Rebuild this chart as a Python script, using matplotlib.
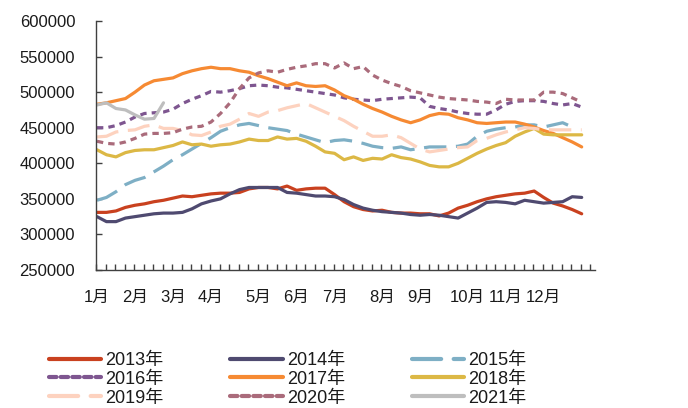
import numpy as np
import matplotlib
matplotlib.use("Agg")
import matplotlib.pyplot as plt
from matplotlib.lines import Line2D

plt.rcParams['font.family'] = ['Liberation Sans', 'Noto Sans CJK SC', 'DejaVu Sans']

weeks = np.arange(52)
month_weeks = [0, 4, 8, 12, 17, 21, 25, 30, 34, 39, 43, 47]
month_labels = ['1月', '2月', '3月', '4月', '5月', '6月', '7月', '8月', '9月', '10月', '11月', '12月']
years = ['2013年', '2014年', '2015年', '2016年', '2017年', '2018年', '2019年', '2020年', '2021年']

y2013 = [331, 331, 333, 338, 341, 343, 346, 348, 351, 354, 353, 355, 357, 358, 358, 359, 364, 366, 366, 364,
         368, 362, 364, 365, 365, 356, 346, 339, 335, 333, 334, 331, 330, 330, 329, 329, 326, 330, 337, 341,
         346, 350, 353, 355, 357, 358, 361, 352, 344, 340, 335, 329]
y2014 = [325, 318, 318, 323, 325, 327, 329, 330, 330, 331, 336, 343, 347, 350, 357, 363, 366, 366, 366, 366,
         359, 358, 356, 354, 354, 353, 349, 342, 337, 334, 332, 331, 330, 328, 327, 328, 327, 325, 323, 330,
         337, 345, 346, 345, 343, 348, 346, 344, 345, 346, 353, 352]
y2015 = [348, 352, 360, 370, 376, 380, 388, 396, 405, 412, 420, 428, 436, 445, 450, 454, 456, 453, 450, 448,
         446, 441, 437, 433, 429, 432, 433, 431, 428, 424, 422, 421, 423, 419, 421, 423, 423, 423, 424, 427,
         438, 445, 448, 450, 451, 454, 454, 451, 454, 457, 451, np.nan]
y2016 = [450, 450, 453, 458, 465, 470, 471, 472, 476, 484, 490, 495, 501, 500, 502, 505, 509, 510, 509, 507,
         506, 504, 502, 500, 498, 496, 492, 490, 489, 488, 490, 491, 492, 493, 492, 480, 477, 475, 472, 470,
         469, 469, 475, 483, 487, 488, 488, 487, 484, 482, 484, 479]
y2017 = [483, 485, 488, 491, 500, 510, 516, 518, 520, 526, 530, 533, 535, 533, 533, 530, 528, 523, 519, 514,
         509, 513, 509, 508, 509, 503, 495, 490, 483, 477, 472, 466, 461, 457, 461, 467, 470, 469, 464, 461,
         457, 456, 457, 458, 458, 455, 451, 446, 442, 436, 430, 423]
y2018 = [419, 412, 409, 415, 418, 419, 419, 422, 425, 430, 426, 427, 424, 426, 427, 430, 434, 432, 432, 437,
         434, 435, 431, 424, 416, 414, 405, 409, 404, 407, 406, 412, 408, 406, 402, 397, 395, 395, 400, 407,
         414, 420, 425, 429, 438, 444, 449, 441, 440, 440, 440, 440]
y2019 = [437, 438, 444, 446, 447, 452, 454, 449, 449, 446, 440, 439, 444, 452, 455, 462, 470, 466, 472, 474,
         478, 481, 484, 478, 472, 466, 460, 452, 445, 438, 438, 440, 436, 428, 420, 416, 418, 420, 422, 423,
         432, 435, 440, 444, 447, 450, 449, 447, 447, 447, 447, 447]
y2020 = [431, 428, 427, 430, 435, 441, 442, 442, 443, 448, 451, 452, 458, 470, 485, 505, 520, 527, 530, 528,
         532, 535, 537, 540, 540, 534, 541, 533, 536, 524, 517, 512, 508, 502, 499, 496, 493, 491, 490, 489,
         487, 486, 484, 490, 489, 489, 489, 500, 500, 498, 492, 486]
y2021 = [482, 485, 477, 475, 468, 462, 463, 485]

series = [y2013, y2014, y2015, y2016, y2017, y2018, y2019, y2020, y2021]
colors = ['#C9411F', '#4F4A70', '#7EAFC5', '#7E5690', '#F68A33', '#DCB845', '#FDD2BF', '#AA6B7B', '#BEBEBE']
dashes = [None, None, (7, 3), (2, 1.6), None, None, (7, 3), (2, 1.6), None]
leg_dashes = [None, None, (7, 3), (1.8, 1.0), None, None, (7, 3), (1.8, 1.0), None]

fig = plt.figure(figsize=(6.88, 4.08), dpi=100)
ax = fig.add_axes([96/688, 1-270/408, 499/688, 249/408])

lw = 2.3
handles = []
for vals, c, d, ld, lab in zip(series, colors, dashes, leg_dashes, years):
    v = np.array(vals, dtype=float) * 1000
    x = weeks[:len(v)]
    kw = dict(color=c, lw=lw, solid_capstyle='round', solid_joinstyle='round', dash_capstyle='butt')
    if d is not None:
        ax.plot(x, v, dashes=d, **kw)
    else:
        ax.plot(x, v, **kw)
    handles.append(Line2D([], [], color=c, lw=3.0, dashes=ld if ld else (None, None),
                          solid_capstyle='round', dash_capstyle='round'))

ax.set_xlim(-0.1, 52.4)
ax.set_ylim(250000, 600000)
ax.set_yticks(np.arange(250000, 600001, 50000))
ax.set_xticks(month_weeks)
ax.set_xticklabels(month_labels)
ax.set_xticks(np.arange(-0.1, 52.45, 1.0), minor=True)

for s in ['top', 'right']:
    ax.spines[s].set_visible(False)
for s in ['left', 'bottom']:
    ax.spines[s].set_color('#404040')
    ax.spines[s].set_linewidth(1.0)

ax.tick_params(axis='y', direction='in', length=4, width=1, color='#404040', labelsize=12,
               pad=15, labelcolor='#1a1a1a')
ax.tick_params(axis='x', which='major', length=0, labelsize=12, pad=14, labelcolor='#1a1a1a')
ax.tick_params(axis='x', which='minor', direction='in', length=4, width=1, color='#404040')

order = [0, 3, 6, 1, 4, 7, 2, 5, 8]
leg = fig.legend([handles[i] for i in order], [years[i] for i in order], ncol=3,
                 loc='upper left', bbox_to_anchor=(49/688, 1-352/408), frameon=False,
                 fontsize=13, handlelength=2.9, handletextpad=0.22, columnspacing=3.7,
                 labelspacing=0.1, borderpad=0, borderaxespad=0)
for t in leg.get_texts():
    t.set_color('#1a1a1a')

fig.savefig('out.png', dpi=100)
